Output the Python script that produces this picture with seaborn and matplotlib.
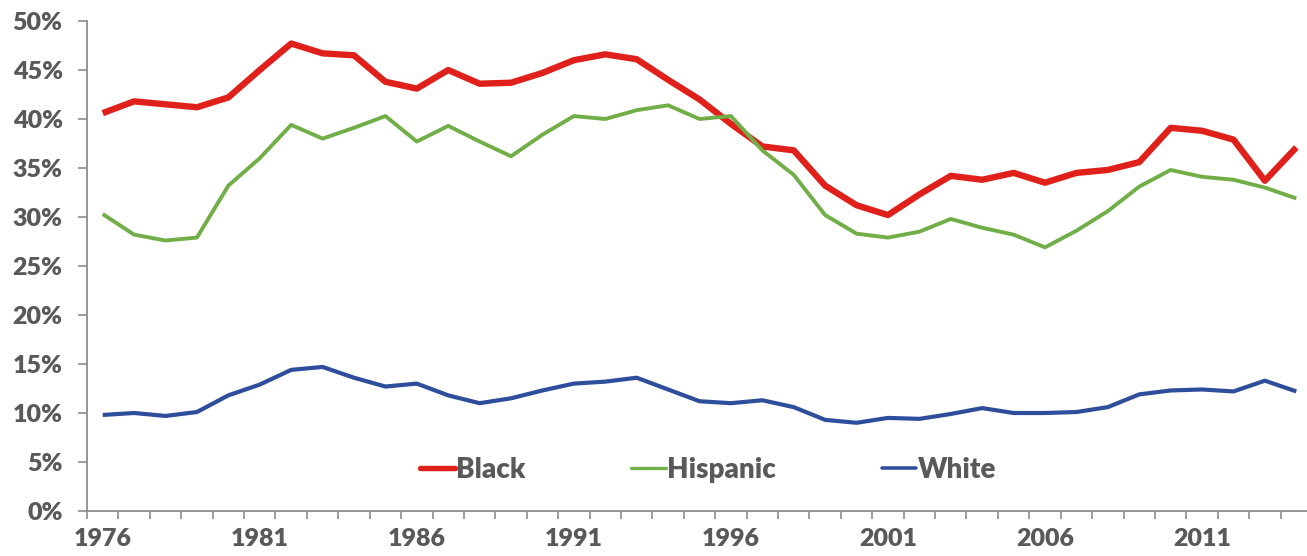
import numpy as np
import pandas as pd
import matplotlib
matplotlib.use("Agg")
import matplotlib.pyplot as plt
import seaborn as sns
from matplotlib.ticker import FuncFormatter, FixedLocator

years = list(range(1976, 2015))

black = [40.6, 41.8, 41.5, 41.2, 42.2, 45.0, 47.7, 46.7, 46.5, 43.8,
         43.1, 45.0, 43.6, 43.7, 44.7, 46.0, 46.6, 46.1, 44.0, 42.0,
         39.5, 37.2, 36.8, 33.2, 31.2, 30.2, 32.3, 34.2, 33.8, 34.5,
         33.5, 34.5, 34.8, 35.6, 39.1, 38.8, 37.9, 33.7, 37.1]

hispanic = [30.3, 28.2, 27.6, 27.9, 33.2, 36.0, 39.4, 38.0, 39.1, 40.3,
            37.7, 39.3, 37.7, 36.2, 38.4, 40.3, 40.0, 40.9, 41.4, 40.0,
            40.3, 36.8, 34.3, 30.2, 28.3, 27.9, 28.5, 29.8, 28.9, 28.2,
            26.9, 28.6, 30.6, 33.1, 34.8, 34.1, 33.8, 33.0, 31.9]

white = [9.8, 10.0, 9.7, 10.1, 11.8, 12.9, 14.4, 14.7, 13.6, 12.7,
         13.0, 11.8, 11.0, 11.5, 12.3, 13.0, 13.2, 13.6, 12.4, 11.2,
         11.0, 11.3, 10.6, 9.3, 9.0, 9.5, 9.4, 9.9, 10.5, 10.0,
         10.0, 10.1, 10.6, 11.9, 12.3, 12.4, 12.2, 13.3, 12.2]

groups = ["Black", "Hispanic", "White"]
colors = {"Black": "#E0211B", "Hispanic": "#72AE48", "White": "#2E4D9A"}
widths = {"Black": 4.6, "Hispanic": 2.8, "White": 3.0}
year_labels = [1976, 1981, 1986, 1991, 1996, 2001, 2006, 2011]

df = pd.DataFrame({
    "year": years * 3,
    "rate": black + hispanic + white,
    "group": np.repeat(groups, len(years)),
})

sns.set_theme(style="white")
plt.rcParams["font.family"] = ["Lato", "DejaVu Sans"]
text_color = "#595959"
axis_color = "#8C8C8C"

fig = plt.figure(figsize=(13.07, 5.56), dpi=100)
ax = fig.add_axes([87 / 1307, 45 / 556, 1225 / 1307, 490 / 556])

sns.lineplot(data=df, x="year", y="rate", hue="group", hue_order=groups,
             palette=colors, ax=ax, legend=False, sort=False,
             solid_capstyle="butt")
for line, g in zip(ax.get_lines(), groups):
    line.set_linewidth(widths[g])

ax.set_xlim(1975.5, 2014.5)
ax.set_ylim(0, 50)
ax.set_xlabel("")
ax.set_ylabel("")

ax.yaxis.set_major_locator(FixedLocator(np.arange(0, 51, 5)))
ax.yaxis.set_major_formatter(FuncFormatter(lambda v, p: f"{int(v)}%"))
ax.xaxis.set_major_locator(FixedLocator(year_labels))
ax.xaxis.set_minor_locator(FixedLocator(np.arange(1975.5, 2015, 1.0)))

for s in ["top", "right"]:
    ax.spines[s].set_visible(False)
for s in ["left", "bottom"]:
    ax.spines[s].set_color(axis_color)
    ax.spines[s].set_linewidth(1.3)

ax.tick_params(axis="y", which="major", left=True, length=6.5, width=1.2,
               color=axis_color, labelsize=18, labelcolor=text_color, pad=11)
ax.tick_params(axis="x", which="major", bottom=False, length=0,
               labelsize=18, labelcolor=text_color, pad=12)
ax.tick_params(axis="x", which="minor", bottom=True, length=6, width=1.2,
               color=axis_color)
for lab in ax.get_xticklabels() + ax.get_yticklabels():
    lab.set_fontweight("heavy")

handles = [plt.Line2D([], [], color=colors[g], lw=widths[g] * 0.85) for g in groups]
leg = ax.legend(handles, groups, loc="center left",
                bbox_to_anchor=((420 - 87) / 1225, (511 - 470) / 490),
                ncol=3, frameon=False, borderpad=0, borderaxespad=0,
                handlelength=1.25, handletextpad=0.05, columnspacing=3.8,
                prop={"size": 20, "weight": "heavy"})
for t in leg.get_texts():
    t.set_color(text_color)

fig.savefig("out.png", dpi=100)
